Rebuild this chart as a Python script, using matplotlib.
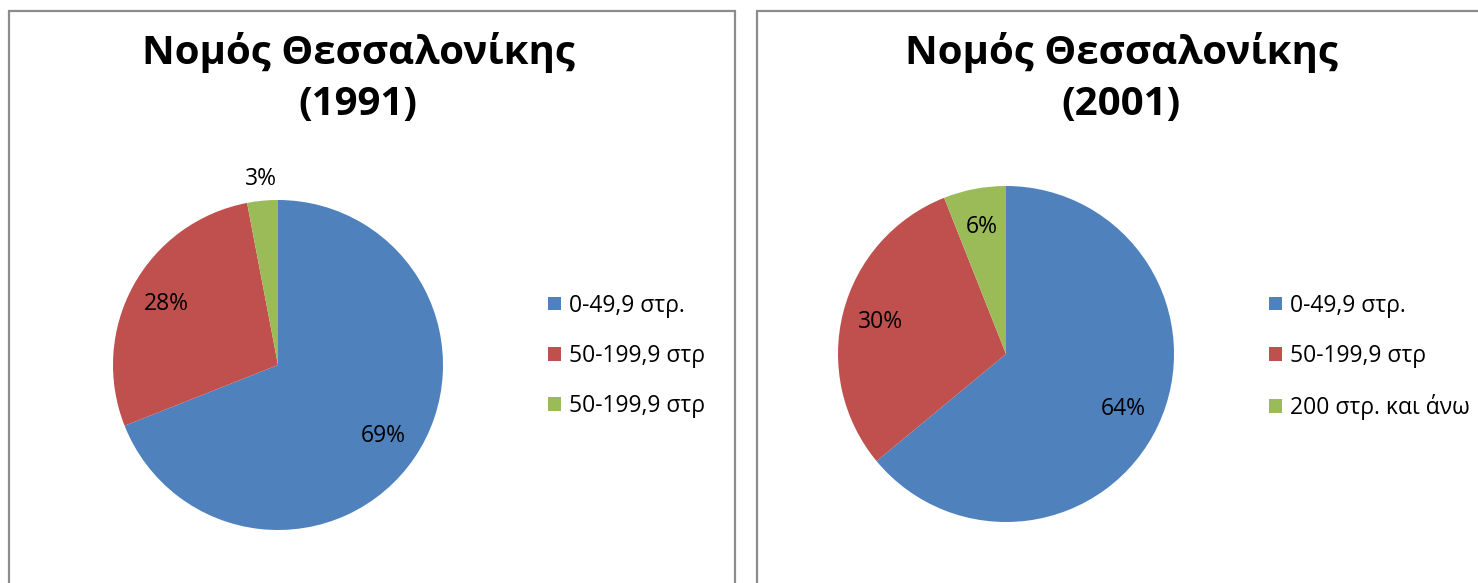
import matplotlib
matplotlib.use("Agg")
import matplotlib.pyplot as plt
from matplotlib.patches import Rectangle
import numpy as np

plt.rcParams['font.family'] = ['Open Sans', 'DejaVu Sans']

# -------- DATA --------
title_1991 = "Νομός Θεσσαλονίκης\n(1991)"
labels_1991 = ["0-49,9 στρ.", "50-199,9 στρ", "50-199,9 στρ"]
values_1991 = [69, 28, 3]

title_2001 = "Νομός Θεσσαλονίκης\n(2001)"
labels_2001 = ["0-49,9 στρ.", "50-199,9 στρ", "200 στρ. και άνω"]
values_2001 = [64, 30, 6]

colors = ["#4F81BD", "#C0504D", "#9BBB59"]

W, H = 1478, 583
fig = plt.figure(figsize=(W / 100, H / 100), dpi=100)


def px_box(x0, y0, x1, y1):
    # pixel box (top-left origin) -> figure fraction rect
    return [x0 / W, 1 - y1 / H, (x1 - x0) / W, (y1 - y0) / H]


# -------- PANEL BORDERS --------
for x0, x1 in [(9, 735), (757, 1500)]:
    fig.patches.append(Rectangle((x0 / W, -0.05), (x1 - x0) / W, 1.05 - 11 / H,
                                 transform=fig.transFigure, fill=False,
                                 edgecolor="#8C8C8C", linewidth=1.6))


def draw_pie(box, values, labels, title, title_x, legend_xy, outside_small):
    ax = fig.add_axes(px_box(*box))
    wedges, texts, autotexts = ax.pie(values, colors=colors, startangle=90,
                                      counterclock=False, autopct='%.0f%%',
                                      pctdistance=0.77,
                                      wedgeprops=dict(linewidth=0),
                                      textprops=dict(fontsize=16.5, color="black"))
    if outside_small:
        w = wedges[-1]
        ang = np.deg2rad((w.theta1 + w.theta2) / 2)
        autotexts[-1].set_position((1.13 * np.cos(ang), 1.13 * np.sin(ang)))
    ax.set_xlim(-1, 1)
    ax.set_ylim(-1, 1)
    ax.set_aspect('equal')
    ax.axis('off')

    fig.text(title_x / W, 1 - 78 / H, title, ha='center', va='center',
             fontsize=29, fontweight='bold', linespacing=1.42)

    fig.legend(wedges, labels, loc='center left',
               bbox_to_anchor=(legend_xy[0] / W, 1 - legend_xy[1] / H),
               frameon=False, fontsize=16.5, handlelength=0.55, handleheight=0.55,
               handletextpad=0.35, labelspacing=1.15, borderpad=0, borderaxespad=0)


draw_pie((113, 200, 443, 530), values_1991, labels_1991, title_1991, 358,
         (548, 356), True)
draw_pie((838, 186, 1174, 522), values_2001, labels_2001, title_2001, 1121,
         (1269, 357), False)

fig.savefig("out.png", dpi=100, facecolor="white")
